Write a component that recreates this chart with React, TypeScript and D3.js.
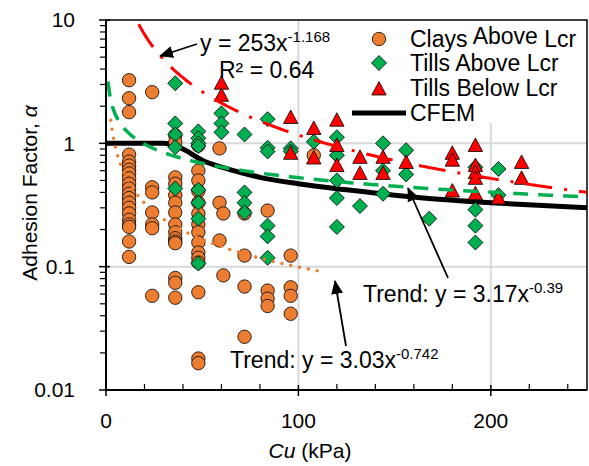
import React from 'react'
import * as d3 from 'd3'

const width = 589
const height = 466
const margin = { top: 20, right: 2, bottom: 76, left: 106 }
const font = '"Liberation Sans", Arial, sans-serif'

// clays above Lcr: [Cu, list of alpha values]
const claysAbove: [number, number[]][] = [
  [12, [3.25, 2.32, 1.79, 0.81, 0.71, 0.66, 0.61, 0.57, 0.52, 0.47, 0.43, 0.39, 0.36, 0.33, 0.3, 0.27, 0.24, 0.22, 0.21, 0.16, 0.12]],
  [24, [2.6, 0.44, 0.4, 0.275, 0.22, 0.205, 0.058]],
  [36, [1.16, 1.02, 0.53, 0.47, 0.38, 0.33, 0.275, 0.22, 0.19, 0.17, 0.16, 0.155, 0.081, 0.074, 0.056]],
  [48, [0.96, 0.6, 0.5, 0.41, 0.33, 0.27, 0.22, 0.19, 0.157, 0.13, 0.118, 0.108, 0.062, 0.018, 0.0165]],
  [59, [0.91, 0.33, 0.163]],
  [61, [0.27, 0.085]],
  [72, [0.27, 0.123, 0.069, 0.027]],
  [84, [0.285, 0.064, 0.055, 0.048]],
  [96, [0.123, 0.068, 0.058, 0.0415]],
  [108, [0.8]],
]

const tillsAbove: [number, number[]][] = [
  [36, [3.07, 1.45, 1.18, 0.93, 0.43]],
  [48, [1.25, 1.1, 1.0, 0.95, 0.42, 0.33, 0.245, 0.106]],
  [60, [1.75, 1.45, 1.23]],
  [72, [1.18, 0.4, 0.33, 0.275]],
  [84, [1.57, 0.92, 0.86, 0.215, 0.176, 0.118]],
  [96, [0.91, 0.86]],
  [108, [1.03]],
  [120, [1.12, 0.8, 0.5, 0.36, 0.21]],
  [132, [0.31]],
  [144, [1.0, 0.6, 0.39]],
  [156, [0.88, 0.56]],
  [168, [0.245]],
  [192, [0.64, 0.29, 0.215, 0.157]],
  [204, [0.62, 0.38]],
]

const tillsBelow: [number, number[]][] = [
  [60, [3.07, 2.45]],
  [96, [1.62, 0.83]],
  [108, [1.32, 0.76]],
  [120, [1.54, 0.96, 0.66]],
  [132, [0.77, 0.57]],
  [144, [0.77, 0.57]],
  [156, [0.7]],
  [180, [0.83, 0.73, 0.41]],
  [192, [0.96, 0.66, 0.58, 0.52, 0.39]],
  [204, [0.36]],
  [216, [0.7, 0.52]],
]

const cfem: [number, number][] = [
  [0, 1], [30, 1], [35, 0.97], [40, 0.9], [50, 0.73], [60, 0.64], [70, 0.58], [80, 0.53],
  [100, 0.47], [125, 0.42], [150, 0.38], [175, 0.35], [200, 0.33], [250, 0.3],
]

// power trendlines y = a x^b as printed on the chart
const trendTillsBelow = { a: 253, b: -1.168, from: 17, to: 250 }
const trendTillsAbove = { a: 3.17, b: -0.39, from: 1, to: 250 }
const trendClays = { a: 3.03, b: -0.742, from: 2.5, to: 114 }

const cuTicks = [0, 100, 200]
const alphaTicks = [0.01, 0.1, 1, 10]
const alphaLabels = ['0.01', '0.1', '1', '10']

const flat = (s: [number, number[]][]) => s.flatMap(([cu, list]) => list.map(a => [cu, a] as [number, number]))

const x = d3.scaleLinear().domain([0, 250]).range([margin.left, width - margin.right])
const y = d3.scaleLog().domain([0.01, 10]).range([height - margin.bottom, margin.top])

const line = d3.line<[number, number]>().x(d => x(d[0])).y(d => y(d[1]))

const trendPath = (t: { a: number; b: number; from: number; to: number }) => {
  const pts: [number, number][] = d3.range(0, 201).map(i => {
    const cu = t.from + (t.to - t.from) * (i / 200)
    return [cu, t.a * Math.pow(cu, t.b)]
  })
  return line(pts) || ''
}

const diamond = 'M0,-7.5L7.5,0L0,7.5L-7.5,0Z'
const triangle = 'M0,-7.5L7.2,6L-7.2,6Z'

const App = () => {
  const x0 = x.range()[0]
  const x1 = x.range()[1]
  const yb = y.range()[0]
  const yt = y.range()[1]
  const minorY = y.ticks().filter(v => !alphaTicks.includes(v))
  const minorX = d3.range(20, 260, 20).filter(v => !cuTicks.includes(v))
  const cfemPath = d3.line<[number, number]>().x(d => x(d[0])).y(d => y(d[1])).curve(d3.curveMonotoneX)(cfem) || ''

  return (
    <svg width={width} height={height} style={{ position: 'absolute', left: 0, top: 0, fontFamily: font }}>
      <defs>
        <marker id="arr" viewBox="0 0 14 12" refX="13" refY="6" markerWidth="14" markerHeight="12"
          markerUnits="userSpaceOnUse" orient="auto">
          <path d="M0,0L14,6L0,12Z" fill="#000" />
        </marker>
      </defs>
      <rect x={0} y={0} width={width} height={height} fill="#fff" />

      {/* gridlines */}
      {[100, 200].map(v => (
        <line key={v} x1={x(v)} x2={x(v)} y1={yt} y2={yb} stroke="#d9d9d9" strokeWidth={2} />
      ))}
      {[0.1, 1].map(v => (
        <line key={v} x1={x0} x2={x1} y1={y(v)} y2={y(v)} stroke="#d9d9d9" strokeWidth={2} />
      ))}

      {/* legend box covers grid */}
      <rect x={341} y={yt + 1} width={x1 - 342} height={102} fill="#fff" />

      {/* plot frame */}
      <rect x={x0} y={yt} width={x1 - x0} height={yb - yt} fill="none" stroke="#000" strokeWidth={1.5} />

      <path d={cfemPath} fill="none" stroke="#000" strokeWidth={5} />

      {flat(claysAbove).map((d, i) => (
        <circle key={'c' + i} cx={x(d[0])} cy={y(d[1])} r={6.7} fill="#ed7d31" stroke="#000" strokeWidth={0.8} />
      ))}
      {flat(tillsAbove).map((d, i) => (
        <path key={'d' + i} d={diamond} transform={`translate(${x(d[0])},${y(d[1])})`} fill="#00b050" stroke="#000" strokeWidth={0.8} />
      ))}
      {flat(tillsBelow).map((d, i) => (
        <path key={'t' + i} d={triangle} transform={`translate(${x(d[0])},${y(d[1])})`} fill="#ff0000" stroke="#000" strokeWidth={0.8} />
      ))}

      <path d={trendPath(trendClays)} fill="none" stroke="#ed7d31" strokeWidth={3.5} strokeLinecap="round" strokeDasharray="0 9" />
      <path d={trendPath(trendTillsAbove)} fill="none" stroke="#00b050" strokeWidth={3.5} strokeDasharray="15 10" />
      <path d={trendPath(trendTillsBelow)} fill="none" stroke="#ff0000" strokeWidth={3} strokeDasharray="27 12 3 12" />

      {/* axes */}
      <line x1={x0} x2={x0} y1={yt} y2={yb} stroke="#000" strokeWidth={2} />
      <line x1={x0} x2={x1} y1={yb} y2={yb} stroke="#000" strokeWidth={2} />
      {alphaTicks.map(v => (
        <line key={v} x1={x0 - 7} x2={x0 + 4} y1={y(v)} y2={y(v)} stroke="#000" strokeWidth={1.5} />
      ))}
      {minorY.map(v => (
        <line key={v} x1={x0 - 6} x2={x0} y1={y(v)} y2={y(v)} stroke="#000" strokeWidth={1.2} />
      ))}
      {cuTicks.map(v => (
        <line key={v} x1={x(v)} x2={x(v)} y1={yb - 5} y2={yb + 6} stroke="#000" strokeWidth={1.5} />
      ))}
      {minorX.map(v => (
        <line key={v} x1={x(v)} x2={x(v)} y1={yb - 6} y2={yb} stroke="#000" strokeWidth={1.2} />
      ))}
      {alphaTicks.map((v, i) => (
        <text key={v} x={75} y={y(v)} dy="0.35em" textAnchor="end" fontSize={21}>{alphaLabels[i]}</text>
      ))}
      {cuTicks.map(v => (
        <text key={v} x={x(v)} y={428} textAnchor="middle" fontSize={21}>{v}</text>
      ))}
      <text transform="translate(37,193) rotate(-90)" textAnchor="middle" fontSize={21}>
        Adhesion Factor, <tspan fontStyle="italic">α</tspan>
      </text>
      <text x={310} y={458} textAnchor="middle" fontSize={21}>
        <tspan fontStyle="italic">Cu</tspan> (kPa)
      </text>

      {/* annotations */}
      <text x={200} y={51} fontSize={23}>y = 253x<tspan dy={-9} fontSize={15}>-1.168</tspan></text>
      <text x={219} y={78} fontSize={23}>R² = 0.64</text>
      <line x1={197} y1={44} x2={160} y2={56} stroke="#000" strokeWidth={1.8} markerEnd="url(#arr)" />

      <text x={363} y={302} fontSize={23}>Trend: y = 3.17x<tspan dy={-9} fontSize={15}>-0.39</tspan></text>
      <line x1={448} y1={278} x2={408} y2={188} stroke="#000" strokeWidth={1.8} markerEnd="url(#arr)" />

      <text x={230} y={368} fontSize={23}>Trend: y = 3.03x<tspan dy={-9} fontSize={15}>-0.742</tspan></text>
      <line x1={346} y1={346} x2={335} y2={281} stroke="#000" strokeWidth={1.8} markerEnd="url(#arr)" />

      {/* legend */}
      <circle cx={379} cy={39} r={6.7} fill="#ed7d31" stroke="#000" strokeWidth={0.8} />
      <text x={410} y={47} fontSize={23}>Clays <tspan dy={-3}>Above</tspan><tspan dy={3}> Lcr</tspan></text>
      <path d={diamond} transform="translate(379,63)" fill="#00b050" stroke="#000" strokeWidth={0.8} />
      <text x={410} y={71} fontSize={23}>Tills Above Lcr</text>
      <path d={triangle} transform="translate(379,89)" fill="#ff0000" stroke="#000" strokeWidth={0.8} />
      <text x={410} y={96} fontSize={23}>Tills Below  Lcr</text>
      <line x1={352} x2={406} y1={113} y2={113} stroke="#000" strokeWidth={5} />
      <text x={410} y={121} fontSize={23}>CFEM</text>
    </svg>
  )
}

export default App
